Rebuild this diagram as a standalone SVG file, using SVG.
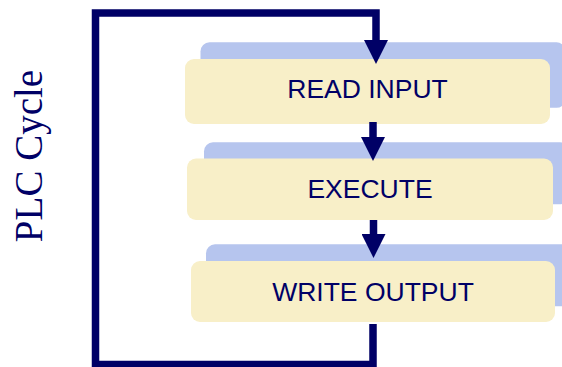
<svg xmlns="http://www.w3.org/2000/svg" width="562" height="367" viewBox="0 0 562 367">
  <style>
    .shadow { fill: #B6C5EE; }
    .box { fill: #F8EFC8; }
    .label { font-family: "Liberation Sans", Arial, sans-serif; font-size: 26.5px; fill: #000066; text-anchor: middle; }
    .title { font-family: "Liberation Serif", "Times New Roman", serif; font-size: 39px; fill: #000066; text-anchor: middle; }
    .flow { fill: none; stroke: #000066; stroke-width: 7.5; stroke-linejoin: miter; stroke-linecap: butt; }
  </style>
  <defs>
    <marker id="head" markerUnits="userSpaceOnUse" markerWidth="24" markerHeight="24" viewBox="0 0 24 24" refX="0" refY="12" orient="auto">
      <path d="M0,0 L24,12 L0,24 Z" fill="#000066"/>
    </marker>
  </defs>

  <rect width="562" height="367" fill="#FFFFFF"/>

  <text class="title" transform="translate(42,156) rotate(-90)">PLC Cycle</text>

  <g id="read-input">
    <rect class="shadow" x="200.5" y="42.3" width="365" height="65.5" rx="9"/>
    <rect class="box" x="185" y="59" width="365" height="65" rx="9"/>
    <text class="label" x="367.5" y="98">READ INPUT</text>
  </g>

  <g id="execute">
    <rect class="shadow" x="204" y="142.3" width="365" height="62" rx="9"/>
    <rect class="box" x="187" y="158.5" width="366" height="61.5" rx="9"/>
    <text class="label" x="370" y="198">EXECUTE</text>
  </g>

  <g id="write-output">
    <rect class="shadow" x="206" y="244.3" width="365" height="62" rx="9"/>
    <rect class="box" x="191" y="261" width="364" height="61" rx="9"/>
    <text class="label" x="373" y="301">WRITE OUTPUT</text>
  </g>

  <g id="connectors">
    <path class="flow" d="M373,324 V364.5 H95.5 V13 H376 V40" marker-end="url(#head)"/>
    <path class="flow" d="M373,122 V137" marker-end="url(#head)"/>
    <path class="flow" d="M373.5,220 V234" marker-end="url(#head)"/>
  </g>
</svg>
